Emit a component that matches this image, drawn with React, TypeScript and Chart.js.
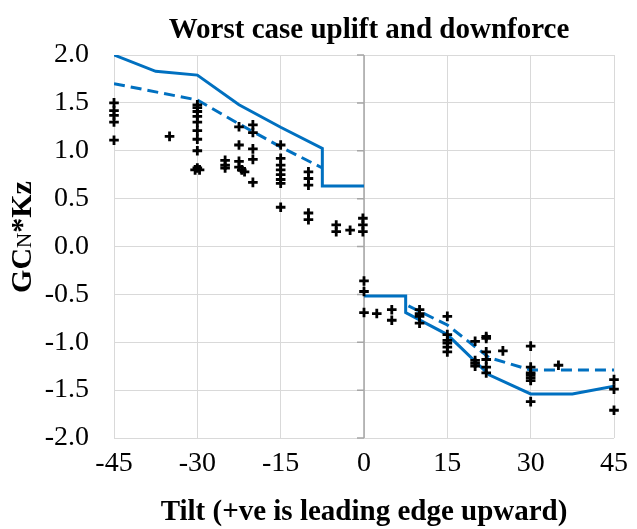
import { useEffect, useRef } from "react";
import { Chart, registerables } from "chart.js";

Chart.register(...registerables);

const chartTitle = "Worst case uplift and downforce";
const xAxisTitle = "Tilt (+ve is leading edge upward)";
const yAxisTitleParts = ["GC", "N", "*Kz"];

const xTickValues = [-45, -30, -15, 0, 15, 30, 45];
const yTickValues = [-2.0, -1.5, -1.0, -0.5, 0.0, 0.5, 1.0, 1.5, 2.0];

// measured data (tilt, GCN*Kz)
const measuredTilt = [
  -45, -45, -45, -45, -45,
  -35,
  -30, -30, -30, -30, -30, -30, -30, -30, -30, -30.4, -29.6,
  -25, -25, -25,
  -22.5, -22.5, -22.5, -22.5, -22, -21.5,
  -20, -20, -20, -20, -20,
  -15, -15, -15, -15, -15, -15, -15, -15,
  -10, -10, -10, -10, -10,
  -5, -5,
  -2.5,
  -0.2, -0.2, -0.2,
  0, 0, 0,
  2.3,
  5, 5,
  10, 10, 10, 10,
  15, 15, 15, 15, 15, 15,
  20, 20, 20, 20,
  22, 22, 22, 22, 22, 22,
  25,
  30, 30, 30, 30, 30, 30, 30,
  35,
  45, 45, 45,
];
const measuredGcn = [
  1.50, 1.42, 1.37, 1.30, 1.11,
  1.15,
  1.48, 1.45, 1.41, 1.36, 1.30, 1.21, 1.12, 1.00, 0.82, 0.80, 0.80,
  0.90, 0.85, 0.82,
  1.25, 1.06, 0.89, 0.83, 0.80, 0.78,
  1.27, 1.19, 1.02, 0.91, 0.67,
  1.06, 0.92, 0.85, 0.80, 0.75, 0.70, 0.66, 0.41,
  0.78, 0.71, 0.64, 0.35, 0.28,
  0.225, 0.155,
  0.17,
  0.295, 0.225, 0.155,
  -0.36, -0.47, -0.69,
  -0.70,
  -0.66, -0.77,
  -0.66, -0.70, -0.73, -0.80,
  -0.73, -0.92, -0.98, -1.01, -1.05, -1.10,
  -0.99, -1.19, -1.22, -1.25,
  -0.94, -0.96, -1.10, -1.18, -1.26, -1.32,
  -1.09,
  -1.04, -1.26, -1.32, -1.34, -1.37, -1.40, -1.62,
  -1.24,
  -1.39, -1.49, -1.71,
];

// design envelopes
const upliftSolidTilt = [-45, -37.5, -30, -22.5, -15, -7.5, -7.5, 0];
const upliftSolidGcn = [2.0, 1.83, 1.79, 1.48, 1.245, 1.025, 0.632, 0.632];
const upliftDashedTilt = [-45, -30, -22.5, -15, -7.5];
const upliftDashedGcn = [1.70, 1.53, 1.28, 1.04, 0.82];
const downSolidTilt = [0, 7.5, 7.5, 15, 22.5, 30, 37.5, 45];
const downSolidGcn = [-0.517, -0.517, -0.69, -0.92, -1.34, -1.54, -1.54, -1.46];
const downDashedTilt = [8, 15, 22.5, 30, 45];
const downDashedGcn = [-0.62, -0.82, -1.16, -1.29, -1.29];

const toXY = (xs: number[], ys: number[]) => xs.map((x, i) => ({ x, y: ys[i] }));

const SERIF = "'Liberation Serif', 'Times New Roman', serif";
const BLUE = "#0070c0";

const overlayPlugin = {
  id: "overlay",
  beforeDatasetsDraw(chart: any) {
    const { ctx, chartArea, scales } = chart;
    const x0 = scales.x.getPixelForValue(0);
    ctx.save();
    ctx.strokeStyle = "#a6a6a6";
    ctx.lineWidth = 1.5;
    ctx.beginPath();
    ctx.moveTo(x0, chartArea.top);
    ctx.lineTo(x0, chartArea.bottom);
    yTickValues.forEach((v) => {
      const py = scales.y.getPixelForValue(v);
      ctx.moveTo(x0 - 7, py);
      ctx.lineTo(x0, py);
    });
    ctx.stroke();
    ctx.restore();
  },
  afterDraw(chart: any) {
    const { ctx, chartArea } = chart;
    ctx.save();
    ctx.fillStyle = "#000";
    ctx.textAlign = "center";
    ctx.textBaseline = "alphabetic";
    ctx.font = `bold 29px ${SERIF}`;
    ctx.fillText(chartTitle, 369, 38);
    ctx.font = `bold 29px ${SERIF}`;
    ctx.fillText(xAxisTitle, (chartArea.left + chartArea.right) / 2, 520);

    // y-axis title with small N
    const fonts = [`bold 30px ${SERIF}`, `21px ${SERIF}`, `bold 30px ${SERIF}`];
    const widths = yAxisTitleParts.map((t, i) => {
      ctx.font = fonts[i];
      return ctx.measureText(t).width;
    });
    const total = widths.reduce((a, b) => a + b, 0);
    ctx.translate(31, 237);
    ctx.rotate(-Math.PI / 2);
    ctx.textAlign = "left";
    let cx = -total / 2;
    yAxisTitleParts.forEach((t, i) => {
      ctx.font = fonts[i];
      ctx.fillText(t, cx, 0);
      cx += widths[i];
    });
    ctx.restore();
  },
};

export default function App() {
  const ref = useRef<HTMLCanvasElement | null>(null);
  useEffect(() => {
    document.body.style.margin = "0";
    if (!ref.current) return;
    const chart = new Chart(ref.current, {
      type: "scatter",
      data: {
        datasets: [
          {
            label: "Measured",
            data: toXY(measuredTilt, measuredGcn),
            pointStyle: "cross",
            pointRadius: 4.8,
            pointBorderWidth: 2.8,
            borderColor: "#000",
            backgroundColor: "#000",
            showLine: false,
            clip: false,
            order: 0,
          },
          {
            label: "Uplift envelope",
            data: toXY(upliftSolidTilt, upliftSolidGcn),
            showLine: true,
            borderColor: BLUE,
            borderWidth: 3,
            pointRadius: 0,
            order: 1,
          },
          {
            label: "Uplift dashed",
            data: toXY(upliftDashedTilt, upliftDashedGcn),
            showLine: true,
            borderColor: BLUE,
            borderWidth: 3,
            borderDash: [11, 6],
            pointRadius: 0,
            order: 1,
          },
          {
            label: "Downforce envelope",
            data: toXY(downSolidTilt, downSolidGcn),
            showLine: true,
            borderColor: BLUE,
            borderWidth: 3,
            pointRadius: 0,
            order: 1,
          },
          {
            label: "Downforce dashed",
            data: toXY(downDashedTilt, downDashedGcn),
            showLine: true,
            borderColor: BLUE,
            borderWidth: 3,
            borderDash: [11, 6],
            pointRadius: 0,
            order: 1,
          },
        ],
      },
      options: {
        responsive: false,
        animation: false,
        layout: { padding: { top: 55, right: 15, left: 0, bottom: 0 } },
        plugins: {
          legend: { display: false },
          title: { display: false },
          tooltip: { enabled: false },
        },
        scales: {
          x: {
            type: "linear",
            min: -45,
            max: 45,
            afterBuildTicks: (s: any) => {
              s.ticks = xTickValues.map((v) => ({ value: v }));
            },
            afterFit: (s: any) => {
              s.height = 91;
            },
            ticks: {
              font: { family: SERIF, size: 28 },
              color: "#000",
              padding: 9,
              maxRotation: 0,
              autoSkip: false,
            },
            grid: { color: "#d9d9d9", lineWidth: 1, drawTicks: false },
            border: { display: false },
          },
          y: {
            type: "linear",
            min: -2,
            max: 2,
            afterBuildTicks: (s: any) => {
              s.ticks = yTickValues.map((v) => ({ value: v }));
            },
            afterFit: (s: any) => {
              s.width = 114;
            },
            ticks: {
              font: { family: SERIF, size: 28 },
              color: "#000",
              padding: 25,
              autoSkip: false,
              callback: (v: any) => Number(v).toFixed(1),
            },
            grid: { color: "#d9d9d9", lineWidth: 1, drawTicks: false },
            border: { display: false },
          },
        },
      },
      plugins: [overlayPlugin],
    });
    return () => chart.destroy();
  }, []);
  return <canvas ref={ref} width={637} height={529} style={{ display: "block" }} />;
}
